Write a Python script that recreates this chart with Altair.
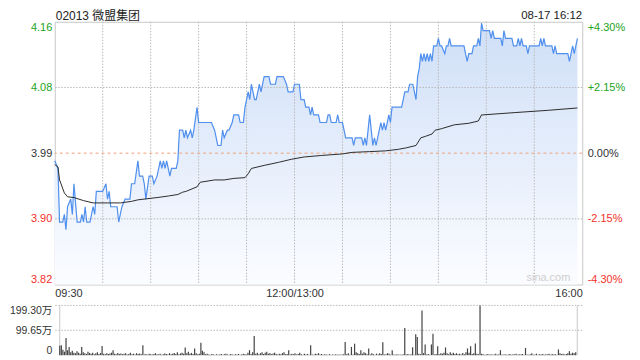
import altair as alt
import pandas as pd

TITLE = "02013 微盟集团"
STAMP = "08-17 16:12"
WATERMARK = "sina.com"
PREV_CLOSE = 3.99
FONT = "Liberation Sans, Noto Sans CJK SC, sans-serif"
GREEN = "#22a322"
RED = "#f2302b"
DARK = "#333333"
GRID = "#b8b8b8"

# minute index (0 = 09:30, 150 = 12:00/13:00, 330 = 16:00) and last price
price_minute = [0, 2, 3, 5, 6, 7, 8, 10, 11, 12, 14, 16, 17, 18, 19, 20, 22, 23, 24, 25,
                26, 30, 32, 33, 34, 35, 39, 40, 42, 44, 47, 48, 50, 52, 53, 55, 56, 57, 59, 61,
                62, 64, 66, 67, 68, 69, 70, 72, 73, 76, 77, 78, 80, 81, 82, 83, 85, 86, 87, 89,
                90, 98, 100, 102, 104, 105, 106, 108, 109, 111, 112, 115, 116, 118, 119, 120, 121, 122, 123, 124,
                125, 126, 128, 129, 130, 131, 134, 135, 138, 139, 143, 145, 146, 149, 150, 153, 154, 156, 157, 159,
                160, 161, 162, 165, 166, 170, 171, 172, 173, 176, 177, 178, 180, 182, 186, 187, 188, 192, 193, 194,
                195, 197, 198, 199, 200, 201, 202, 203, 204, 205, 206, 207, 208, 209, 210, 211, 217, 219, 221, 222,
                224, 226, 227, 228, 229, 230, 231, 232, 233, 234, 235, 236, 237, 239, 240, 241, 242, 244, 245, 246,
                247, 248, 256, 257, 258, 259, 261, 262, 264, 265, 266, 267, 268, 272, 273, 274, 275, 279, 280, 281,
                282, 286, 287, 289, 290, 291, 292, 293, 295, 296, 297, 303, 304, 305, 306, 307, 311, 312, 313, 314,
                321, 322, 323, 324, 325, 326, 327]
price_value = [3.98, 3.97, 3.90, 3.90, 3.91, 3.89, 3.92, 3.93, 3.91, 3.95, 3.90, 3.90, 3.91, 3.90, 3.92, 3.90, 3.90, 3.91, 3.92, 3.91,
               3.94, 3.94, 3.95, 3.93, 3.94, 3.92, 3.92, 3.90, 3.92, 3.93, 3.93, 3.95, 3.95, 3.98, 3.96, 3.96, 3.95, 3.93, 3.96, 3.96,
               3.95, 3.96, 3.98, 3.97, 3.98, 3.97, 3.98, 3.96, 3.97, 3.97, 3.98, 4.02, 4.02, 4.01, 4.02, 4.01, 4.02, 4.01, 4.02, 4.05,
               4.03, 4.03, 4.02, 4.00, 4.00, 4.02, 4.01, 4.02, 4.02, 4.03, 4.04, 4.04, 4.03, 4.03, 4.05, 4.06, 4.07, 4.06, 4.08, 4.07,
               4.06, 4.06, 4.08, 4.07, 4.08, 4.09, 4.09, 4.08, 4.08, 4.09, 4.09, 4.08, 4.07, 4.07, 4.08, 4.08, 4.06, 4.06, 4.05, 4.05,
               4.04, 4.05, 4.04, 4.04, 4.03, 4.03, 4.04, 4.04, 4.03, 4.03, 4.04, 4.03, 4.03, 4.01, 4.01, 4.00, 4.01, 4.01, 4.00, 4.01,
               4.00, 4.04, 4.02, 4.00, 4.01, 4.00, 4.01, 4.02, 4.03, 4.02, 4.03, 4.02, 4.03, 4.04, 4.03, 4.05, 4.05, 4.07, 4.07, 4.08,
               4.08, 4.06, 4.09, 4.10, 4.12, 4.11, 4.12, 4.11, 4.12, 4.11, 4.12, 4.11, 4.13, 4.13, 4.14, 4.13, 4.13, 4.12, 4.13, 4.13,
               4.14, 4.13, 4.13, 4.12, 4.11, 4.12, 4.12, 4.13, 4.13, 4.14, 4.13, 4.16, 4.15, 4.15, 4.14, 4.15, 4.14, 4.14, 4.13, 4.15,
               4.14, 4.14, 4.13, 4.13, 4.14, 4.13, 4.14, 4.13, 4.13, 4.12, 4.13, 4.13, 4.14, 4.13, 4.14, 4.13, 4.13, 4.12, 4.13, 4.12,
               4.12, 4.11, 4.12, 4.13, 4.12, 4.13, 4.14]

# average price line
avg_minute = [0, 2, 3, 6, 8, 12, 18, 24, 33, 41, 48, 52, 64, 71, 77, 80, 82, 89, 91, 100,
              106, 112, 119, 121, 123, 131, 140, 148, 156, 167, 180, 186, 197, 207, 215, 220, 226, 229, 232, 236,
              238, 242, 250, 259, 265, 267, 268, 288, 309, 327]
avg_value = [3.975, 3.972, 3.955, 3.938, 3.933, 3.932, 3.928, 3.925, 3.925, 3.925, 3.927, 3.929, 3.932, 3.934, 3.936, 3.939, 3.940, 3.946, 3.952, 3.955,
             3.955, 3.957, 3.958, 3.963, 3.970, 3.974, 3.978, 3.982, 3.985, 3.987, 3.989, 3.991, 3.992, 3.993, 3.995, 3.997, 4.000, 4.010, 4.012, 4.015,
             4.020, 4.022, 4.027, 4.029, 4.032, 4.040, 4.040, 4.043, 4.046, 4.049]

# per-minute volume, in 万
volume = [38, 40, 22, 14, 69, 20, 33, 12, 18, 10,
          8, 16, 10, 6, 33, 12, 8, 5, 14, 9,
          6, 10, 4, 8, 12, 5, 9, 37, 6, 4,
          8, 5, 7, 10, 20, 6, 4, 9, 5, 7,
          4, 6, 8, 3, 5, 10, 4, 6, 3, 8,
          5, 7, 4, 40, 3, 5, 2, 6, 4, 3,
          5, 8, 4, 3, 6, 2, 4, 7, 5, 3,
          8, 4, 6, 9, 5, 12, 4, 7, 10, 6,
          31, 8, 14, 6, 9, 5, 27, 8, 4, 6,
          50, 18, 12, 4, 6, 3, 2, 5, 3, 2,
          4, 2, 3, 5, 2, 4, 6, 3, 2, 5,
          3, 2, 4, 3, 5, 2, 3, 6, 4, 3,
          10, 20, 5, 12, 77, 6, 10, 4, 8, 12,
          5, 10, 14, 6, 9, 4, 7, 10, 5, 3,
          6, 4, 8, 12, 4, 5, 20, 3, 6, 4,
          8, 3, 5, 10, 4, 2, 6, 3, 5, 2,
          40, 3, 2, 6, 4, 8, 3, 5, 2, 4,
          3, 2, 4, 2, 3, 2, 4, 2, 3, 2,
          3, 4, 53, 4, 8, 2, 33, 3, 46, 12,
          8, 5, 20, 6, 12, 8, 4, 27, 3, 8,
          4, 2, 6, 3, 8, 5, 52, 3, 4, 8,
          6, 2, 20, 3, 2, 4, 2, 3, 2, 4,
          109, 3, 5, 2, 4, 32, 2, 84, 73, 6,
          4, 179, 8, 43, 3, 5, 2, 43, 86, 3,
          5, 36, 4, 8, 6, 10, 31, 8, 4, 12,
          6, 10, 5, 8, 4, 6, 3, 9, 4, 12,
          27, 10, 36, 5, 8, 47, 6, 4, 199.3, 6,
          4, 2, 3, 5, 2, 4, 2, 3, 6, 2,
          4, 20, 3, 2, 4, 2, 3, 5, 2, 4,
          3, 6, 2, 4, 3, 5, 2, 29, 3, 2,
          4, 8, 2, 3, 6, 2, 4, 3, 5, 2,
          4, 3, 6, 2, 5, 3, 4, 2, 23, 8,
          4, 6, 3, 5, 8, 16, 6, 10, 8, 12]

price_ticks = [4.1616, 4.0758, 3.99, 3.9042, 3.8184]
price_labels = ["4.16", "4.08", "3.99", "3.90", "3.82"]
pct_labels = ["+4.30%", "+2.15%", "0.00%", "-2.15%", "-4.30%"]
time_ticks = [0, 150, 330]
time_labels = ["09:30", "12:00/13:00", "16:00"]
grid_minutes = [30, 60, 90, 120, 150, 180, 210, 240, 270, 300]
grid_prices = [4.0758, 3.9042]
vol_ticks = [0, 99.65, 199.30]
vol_labels = ["0", "99.65万", "199.30万"]


def label_expr(ticks, labels):
    pairs = sorted(zip(ticks, labels))
    expr = f"'{pairs[0][1]}'"
    for k in range(1, len(pairs)):
        mid = (pairs[k - 1][0] + pairs[k][0]) / 2
        expr = f"datum.value > {mid} ? '{pairs[k][1]}' : ({expr})"
    return expr


label_color = {
    "condition": [
        {"test": f"datum.value > {PREV_CLOSE + 0.005}", "value": GREEN},
        {"test": f"datum.value < {PREV_CLOSE - 0.005}", "value": RED},
    ],
    "value": DARK,
}

xscale = alt.Scale(domain=[0, 330], nice=False, zero=False)
yscale = alt.Scale(domain=[price_ticks[-1], price_ticks[0]], nice=False, zero=False)

time_axis = alt.Axis(values=time_ticks, labelExpr=label_expr(time_ticks, time_labels),
                     labelFlush=True, domain=False, ticks=False, grid=False,
                     labelPadding=3, title=None, labelColor=DARK)
left_axis = alt.Axis(values=price_ticks, labelExpr=label_expr(price_ticks, price_labels),
                     labelFlush=True, domain=False, ticks=False, grid=False,
                     labelPadding=3, title=None, labelColor=label_color)
right_axis = alt.Axis(orient="right", values=price_ticks,
                      labelExpr=label_expr(price_ticks, pct_labels),
                      labelFlush=True, domain=False, ticks=False, grid=False,
                      labelPadding=5, title=None, labelColor=label_color)


def X(field):
    return alt.X(f"{field}:Q", scale=xscale, axis=time_axis)


price_df = pd.DataFrame({"m": price_minute, "p": price_value})
avg_df = pd.DataFrame({"m": avg_minute, "p": avg_value})

grad = alt.Gradient(gradient="linear",
                    stops=[alt.GradientStop(color="#cfdff7", offset=0),
                           alt.GradientStop(color="#fbfcff", offset=1)],
                    x1=1, x2=1, y1=0, y2=1)

area = alt.Chart(price_df).mark_area(color=grad).encode(
    x=X("m"), y=alt.Y("p:Q", scale=yscale, axis=left_axis), y2=alt.datum(price_ticks[-1]))

vgrid = alt.Chart(pd.DataFrame({"m": grid_minutes})).mark_rule(
    color=GRID, strokeDash=[1.5, 1.5], strokeWidth=1).encode(x=X("m"))

hgrid = alt.Chart(pd.DataFrame({"p": grid_prices})).mark_rule(
    color=GRID, strokeDash=[1.5, 1.5], strokeWidth=1).encode(
    y=alt.Y("p:Q", scale=yscale, axis=None))

zero = alt.Chart(pd.DataFrame({"p": [PREV_CLOSE]})).mark_rule(
    color="#eea07c", strokeDash=[3, 3], strokeWidth=1).encode(
    y=alt.Y("p:Q", scale=yscale, axis=right_axis))

line = alt.Chart(price_df).mark_line(color="#4f8fee", strokeWidth=1.2).encode(
    x=X("m"), y=alt.Y("p:Q", scale=yscale, axis=None))

avg = alt.Chart(avg_df).mark_line(color="#2b2b2b", strokeWidth=1).encode(
    x=X("m"), y=alt.Y("p:Q", scale=yscale, axis=None))

title = alt.Chart(pd.DataFrame({"t": [TITLE]})).mark_text(
    align="left", baseline="middle", fontSize=12, color="#222222").encode(
    x=alt.value(1), y=alt.value(-6), text="t:N")

stamp = alt.Chart(pd.DataFrame({"t": [STAMP]})).mark_text(
    align="right", baseline="middle", fontSize=11.5, color="#222222").encode(
    x=alt.value(530), y=alt.value(-6), text="t:N")

wm = alt.Chart(pd.DataFrame({"t": [WATERMARK]})).mark_text(
    align="right", baseline="middle", fontSize=11, color="#cfcfcf").encode(
    x=alt.value(518), y=alt.value(257), text="t:N")

main = alt.layer(area, vgrid, hgrid, zero, line, avg, title, stamp, wm).resolve_scale(
    y="independent").properties(width=530, height=264,
                                view=alt.ViewBackground(stroke="#c8c8c8", strokeWidth=1))

vol_df = pd.DataFrame({"m": list(range(len(volume))), "v": volume})
vscale = alt.Scale(domain=[0, vol_ticks[-1]], nice=False, zero=True)
vol_axis = alt.Axis(values=vol_ticks, labelExpr=label_expr(vol_ticks, vol_labels),
                    labelFlush=True, domain=False, ticks=False, grid=False,
                    labelPadding=3, labelFontSize=10.5, title=None, labelColor=DARK)

vol_grid = alt.Chart(pd.DataFrame({"v": vol_ticks[1:]})).mark_rule(
    color=GRID, strokeDash=[1.5, 1.5], strokeWidth=1).encode(
    y=alt.Y("v:Q", scale=vscale, axis=vol_axis))
vol_border = alt.Chart(pd.DataFrame({"m": [0, 330]})).mark_rule(
    color="#c8c8c8", strokeWidth=1).encode(x=alt.X("m:Q", scale=xscale, axis=None))
bars = alt.Chart(vol_df).mark_bar(width=1.2, color="#444444").encode(
    x=alt.X("m:Q", scale=xscale, axis=None),
    y=alt.Y("v:Q", scale=vscale, axis=vol_axis))

vol = alt.layer(vol_grid, vol_border, bars).properties(width=530, height=50)

chart = alt.vconcat(main, vol, spacing=21, bounds="flush").properties(
    padding={"left": 0, "right": 6, "top": 0, "bottom": 2}
).configure_view(stroke="transparent").configure_axis(
    labelFont=FONT, labelFontSize=11
).configure_text(font=FONT)

chart.save("out.html", embed_options={"renderer": "svg", "actions": False})
